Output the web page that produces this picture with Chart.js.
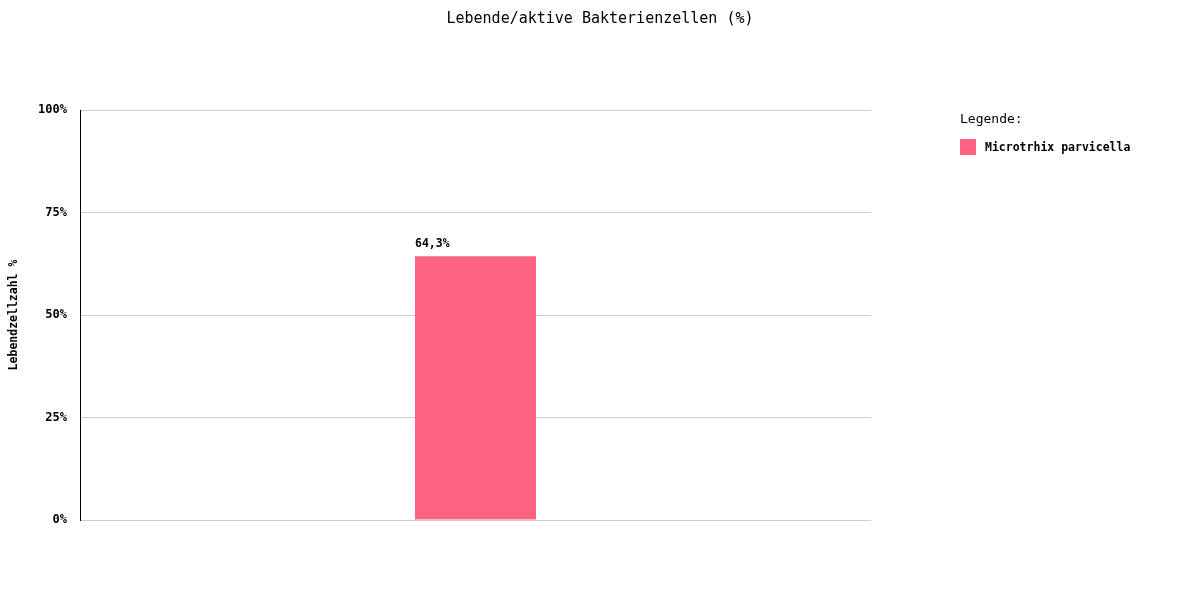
<!DOCTYPE html>
<html>
<head>
<meta charset="utf-8">
<script src="https://cdn.jsdelivr.net/npm/chart.js@4/dist/chart.umd.min.js"></script>
<style>
  html, body { margin: 0; padding: 0; background: #fff; }
  #wrap { position: relative; width: 1200px; height: 600px; }
  #title { position: absolute; left: 0; width: 1200px; top: 9px; text-align: center;
    font: 15px "DejaVu Sans Mono", monospace; color: #000; }
  #legend { position: absolute; left: 960px; top: 111px; font-family: "DejaVu Sans Mono", monospace; color: #000; }
  #legend .head { font-size: 13px; margin-bottom: 13px; }
  #legend .item { display: flex; align-items: center; font-size: 11.5px; font-weight: bold; }
  #legend .sw { width: 16px; height: 16px; margin-right: 9px; }
</style>
</head>
<body>
<div id="wrap">
  <canvas id="chart" width="1200" height="600"></canvas>
  <div id="title">Lebende/aktive Bakterienzellen (%)</div>
  <div id="legend"></div>
</div>
<script>
// Lebende/aktive Bakterienzellen - single bar

const categories = ['Microtrhix parvicella'];
const values = [64.3];
const yTicks = [0, 25, 50, 75, 100];
const barColor = '#ff6384';

// legend
const legend = document.getElementById('legend');
legend.innerHTML = '<div class="head">Legende:</div>' +
  categories.map(c => `<div class="item"><span class="sw" style="background:${barColor}"></span>${c}</div>`).join('');

// value labels above bars
const valueLabels = {
  id: 'valueLabels',
  afterDatasetsDraw(chart) {
    const ctx = chart.ctx;
    ctx.save();
    ctx.font = 'bold 11.5px "DejaVu Sans Mono", monospace';
    ctx.fillStyle = '#000';
    ctx.textAlign = 'left';
    ctx.textBaseline = 'alphabetic';
    chart.getDatasetMeta(0).data.forEach((bar, i) => {
      const txt = values[i].toFixed(1).replace('.', ',') + '%';
      ctx.fillText(txt, bar.x - bar.width / 2, bar.y - 9);
    });
    ctx.restore();
  }
};

new Chart(document.getElementById('chart').getContext('2d'), {
  type: 'bar',
  data: {
    labels: categories,
    datasets: [{
      label: categories[0],
      data: values,
      backgroundColor: barColor,
      borderWidth: 0,
      categoryPercentage: 1,
      barPercentage: 0.153
    }]
  },
  options: {
    responsive: false,
    animation: false,
    layout: { padding: { top: 110, right: 329, bottom: 80, left: 0 } },
    plugins: {
      legend: { display: false },
      title: { display: false },
      tooltip: { enabled: false }
    },
    scales: {
      x: { display: false },
      y: {
        min: 0,
        max: 100,
        afterFit: scale => { scale.width = 80; },
        afterBuildTicks: scale => { scale.ticks = yTicks.map(v => ({ value: v })); },
        grid: { color: '#cccccc', lineWidth: 1, drawTicks: false },
        border: { color: '#000000', width: 1 },
        ticks: {
          padding: 13,
          color: '#000',
          font: { family: '"DejaVu Sans Mono", monospace', size: 12, weight: 'bold' },
          callback: v => v + '%'
        },
        title: {
          display: true,
          text: 'Lebendzellzahl %',
          color: '#000',
          padding: { top: 7, bottom: 0 },
          font: { family: '"DejaVu Sans Mono", monospace', size: 11.5, weight: 'bold' }
        }
      }
    }
  },
  plugins: [valueLabels]
});
</script>
</body>
</html>
